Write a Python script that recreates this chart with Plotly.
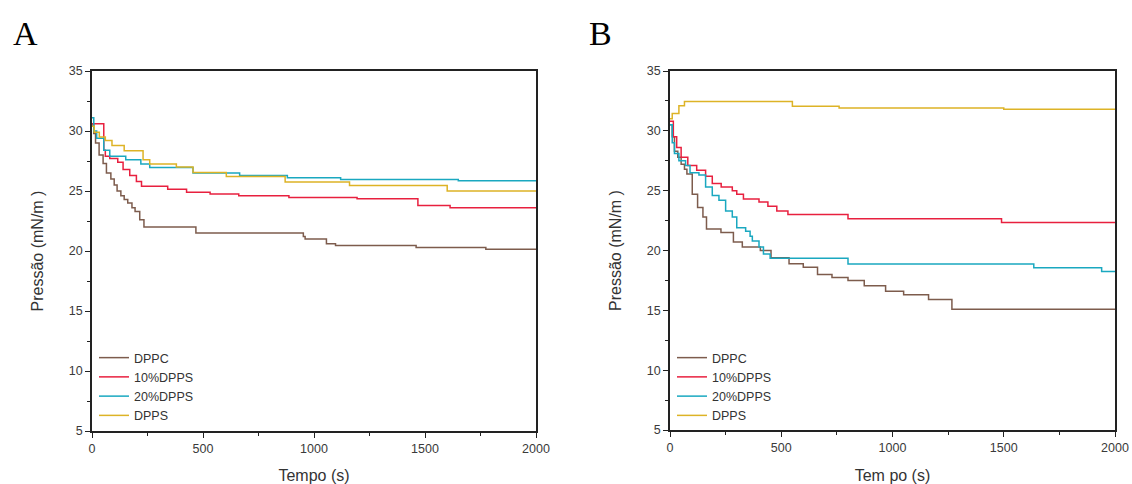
import plotly.graph_objects as go

W, H = 1132, 484
series_names = ["DPPC", "10%DPPS", "20%DPPS", "DPPS"]
colors = ["#7d5c4d", "#e8203f", "#1aa8c0", "#ddb326"]

# ---------- Panel A ----------
A_DPPC_t = [0, 8, 16, 32, 50, 65, 85, 100, 113, 130, 145, 161, 180, 194, 215, 234, 468, 952, 960, 1056, 1097, 1460, 1774, 2000]
A_DPPC_v = [30.5, 29.8, 29.0, 28.0, 27.3, 26.5, 26.0, 25.5, 25.0, 24.6, 24.3, 24.0, 23.6, 23.3, 22.6, 22.0, 21.5, 21.2, 21.0, 20.6, 20.45, 20.3, 20.15, 20.15]

A_P10_t = [0, 53, 60, 80, 116, 140, 170, 200, 223, 341, 426, 532, 661, 887, 1194, 1468, 1613, 2000]
A_P10_v = [30.6, 28.4, 27.9, 27.7, 27.4, 26.8, 26.3, 25.8, 25.4, 25.15, 24.9, 24.75, 24.6, 24.45, 24.35, 23.8, 23.6, 23.6]

A_P20_t = [0, 8, 21, 53, 80, 152, 220, 260, 455, 665, 880, 1120, 1650, 2000]
A_P20_v = [31.1, 30.0, 29.4, 28.4, 27.9, 27.6, 27.25, 26.95, 26.5, 26.3, 26.1, 25.95, 25.85, 25.85]

A_DPPS_t = [0, 10, 33, 60, 90, 145, 230, 260, 380, 455, 605, 870, 1160, 1600, 2000]
A_DPPS_v = [30.4, 29.9, 29.5, 29.2, 28.8, 28.35, 27.6, 27.25, 27.0, 26.55, 26.2, 25.75, 25.45, 25.0, 25.0]

# ---------- Panel B ----------
B_DPPC_t = [0, 10, 20, 35, 50, 65, 76, 100, 124, 148, 164, 229, 285, 325, 406, 454, 535, 599, 663, 728, 800, 873, 969, 1050, 1162, 1267, 2000]
B_DPPC_v = [30.5, 29.5, 28.3, 27.8, 27.2, 26.8, 26.4, 24.7, 23.6, 22.8, 21.8, 21.5, 20.7, 20.3, 20.0, 19.4, 18.9, 18.6, 18.0, 17.75, 17.5, 17.05, 16.6, 16.3, 15.9, 15.1, 15.05]

B_P10_t = [0, 15, 30, 50, 80, 120, 160, 190, 230, 280, 300, 330, 400, 440, 480, 530, 800, 1490, 2000]
B_P10_v = [30.8, 29.5, 28.6, 27.8, 27.1, 26.7, 26.2, 25.6, 25.3, 25.0, 24.7, 24.3, 24.05, 23.7, 23.3, 23.0, 22.65, 22.35, 22.35]

B_P20_t = [0, 10, 20, 40, 70, 90, 130, 160, 190, 220, 250, 280, 300, 340, 360, 370, 400, 420, 450, 800, 1635, 1940, 2000]
B_P20_v = [30.5, 29.0, 28.1, 27.5, 27.1, 26.5, 26.3, 25.3, 24.6, 24.2, 23.3, 22.8, 21.9, 21.6, 21.2, 20.8, 20.3, 19.7, 19.35, 18.87, 18.55, 18.25, 18.25]

B_DPPS_t = [0, 10, 40, 65, 550, 760, 1500, 2000]
B_DPPS_v = [31.0, 31.45, 32.1, 32.45, 32.05, 31.9, 31.8, 31.8]

panels = [
    [(A_DPPC_t, A_DPPC_v), (A_P10_t, A_P10_v), (A_P20_t, A_P20_v), (A_DPPS_t, A_DPPS_v)],
    [(B_DPPC_t, B_DPPC_v), (B_P10_t, B_P10_v), (B_P20_t, B_P20_v), (B_DPPS_t, B_DPPS_v)],
]

x_ticks = [0, 500, 1000, 1500, 2000]
y_ticks = [5, 10, 15, 20, 25, 30, 35]
x_titles = ["Tempo (s)", "Tem po (s)"]
y_title = "Pressão (mN/m )"
panel_letters = ["A", "B"]

fig = go.Figure()
for p, data in enumerate(panels):
    suffix = "" if p == 0 else "2"
    for i, (t, v) in enumerate(data):
        fig.add_trace(go.Scatter(
            x=t, y=v, mode="lines", name=series_names[i],
            line=dict(color=colors[i], width=1.5, shape="hv"),
            xaxis="x" + suffix, yaxis="y" + suffix,
            legend="legend" + suffix,
        ))

font_fam = "Liberation Sans, Arial, sans-serif"
tick_font = dict(family=font_fam, size=12.5, color="#3a3a3a")
title_font = dict(family=font_fam, size=16, color="#333")


def xaxis(dom, anchor, title):
    return dict(domain=dom, anchor=anchor, range=[0, 2000], tickvals=x_ticks,
                ticks="outside", ticklen=5, tickwidth=1.2, tickcolor="#222",
                minor=dict(ticks="outside", ticklen=3, dtick=250, tickcolor="#222", showgrid=False),
                showline=True, linecolor="#222", linewidth=1.5, mirror=True,
                showgrid=False, zeroline=False, tickfont=tick_font, automargin=False,
                title=dict(text=title, font=title_font, standoff=16))


def yaxis(dom, anchor):
    return dict(domain=dom, anchor=anchor, range=[5, 35], tickvals=y_ticks,
                ticks="outside", ticklen=5, tickwidth=1.2, tickcolor="#222",
                minor=dict(ticks="outside", ticklen=3, dtick=2.5, tickcolor="#222", showgrid=False),
                showline=True, linecolor="#222", linewidth=1.5, mirror=True,
                showgrid=False, zeroline=False, tickfont=tick_font, automargin=False,
                title=dict(text=y_title, font=title_font, standoff=21))


xa_dom = [92 / W, 536 / W]
xb_dom = [670 / W, 1115 / W]
ya_dom = [(H - 431) / H, (H - 71) / H]
yb_dom = [(H - 430) / H, (H - 71) / H]

legend_font = dict(family=font_fam, size=12.5, color="#333")
letter_font = dict(family="Liberation Serif, serif", size=34, color="black")
fig.update_layout(
    width=W, height=H, margin=dict(l=0, r=0, t=0, b=0, autoexpand=False),
    paper_bgcolor="white", plot_bgcolor="white",
    xaxis=xaxis(xa_dom, "y", x_titles[0]),
    yaxis=yaxis(ya_dom, "x"),
    xaxis2=xaxis(xb_dom, "y2", x_titles[1]),
    yaxis2=yaxis(yb_dom, "x2"),
    legend=dict(x=94 / W, y=(H - 343) / H, xanchor="left", yanchor="top",
                bgcolor="rgba(0,0,0,0)", font=legend_font, tracegroupgap=0,
                itemwidth=30),
    legend2=dict(x=672 / W, y=(H - 343) / H, xanchor="left", yanchor="top",
                 bgcolor="rgba(0,0,0,0)", font=legend_font, tracegroupgap=0,
                 itemwidth=30),
    annotations=[
        dict(text=panel_letters[0], x=25 / W, y=(H - 33) / H, xref="paper", yref="paper",
             xanchor="center", yanchor="middle", showarrow=False, font=letter_font),
        dict(text=panel_letters[1], x=600 / W, y=(H - 33) / H, xref="paper", yref="paper",
             xanchor="center", yanchor="middle", showarrow=False, font=letter_font),
    ],
)

fig.write_html(
    "out.html",
    config={"displayModeBar": False},
    post_script="document.body.style.margin='0';document.body.style.overflow='hidden';",
)
